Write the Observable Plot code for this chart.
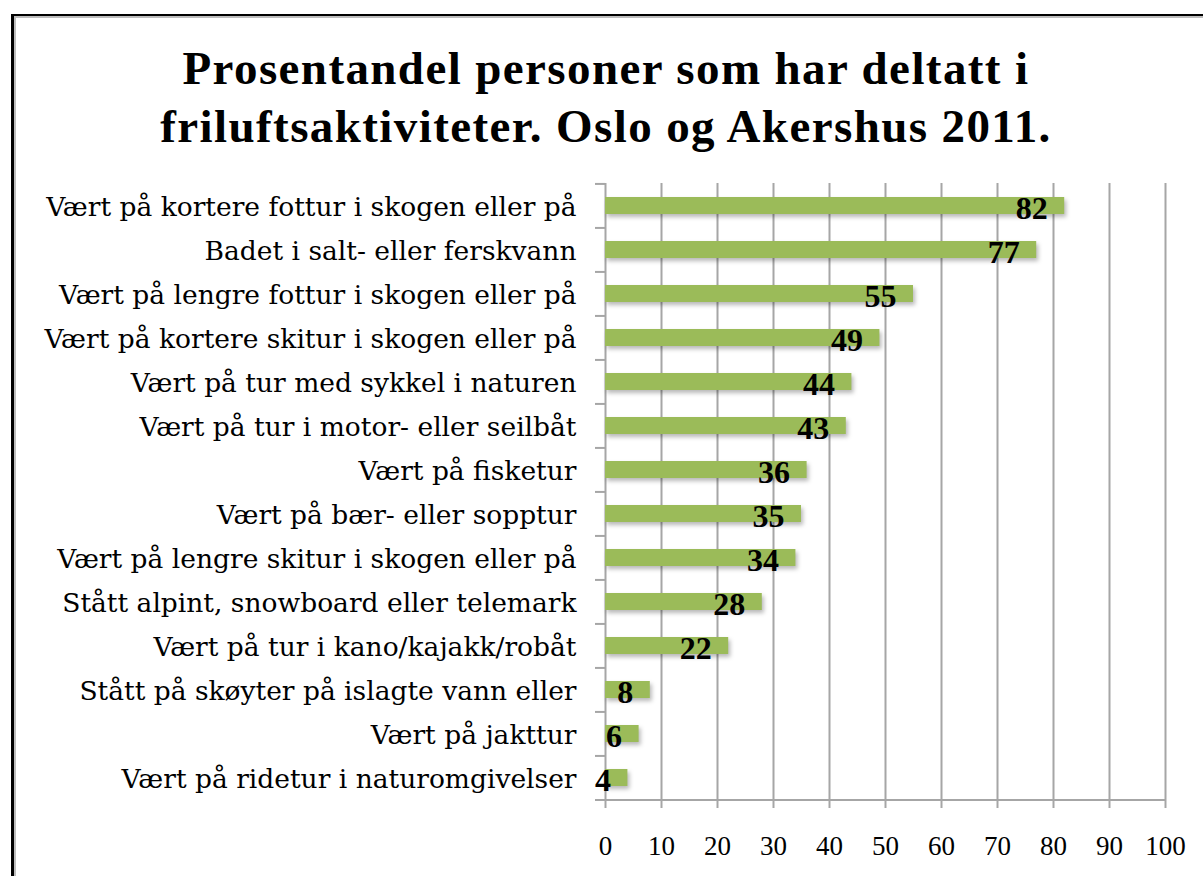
<!DOCTYPE html>
<html>
<head>
<meta charset="utf-8">
<script src="https://cdn.jsdelivr.net/npm/d3@7"></script>
<script src="https://cdn.jsdelivr.net/npm/@observablehq/plot@0.6"></script>
<style>
  html, body { margin: 0; padding: 0; background: #fff; width: 1203px; height: 876px; overflow: hidden; }
  #frame { position: absolute; left: 11px; top: 14px; width: 1300px; height: 1000px;
           border-left: 3px solid #000; border-top: 2px solid #000; box-shadow: inset 2px 2px 0 #bdbdbd; }
  #title { position: absolute; left: 0; top: 39px; width: 1212px; text-align: center;
           font-family: "Liberation Serif", serif; font-weight: bold; font-size: 47px; line-height: 58px;
           letter-spacing: 1.4px; color: #000; white-space: nowrap; }
  #chart { position: absolute; left: 0; top: 0; }
  #chart svg g[aria-label="bar"] rect { filter: drop-shadow(2px 3px 2px rgba(0,0,0,0.28)); }
</style>
</head>
<body>
<div id="frame"></div>
<div id="title">Prosentandel personer som har deltatt i<br>friluftsaktiviteter. Oslo og Akershus 2011.</div>
<div id="chart"></div>
<script>
const activities = [
  "Vært på kortere fottur i skogen eller på",
  "Badet i salt- eller ferskvann",
  "Vært på lengre fottur i skogen eller på",
  "Vært på kortere skitur i skogen eller på",
  "Vært på tur med sykkel i naturen",
  "Vært på tur i motor- eller seilbåt",
  "Vært på fisketur",
  "Vært på bær- eller sopptur",
  "Vært på lengre skitur i skogen eller på",
  "Stått alpint, snowboard eller telemark",
  "Vært på tur i kano/kajakk/robåt",
  "Stått på skøyter på islagte vann eller",
  "Vært på jakttur",
  "Vært på ridetur i naturomgivelser"
];
const percents = [82, 77, 55, 49, 44, 43, 36, 35, 34, 28, 22, 8, 6, 4];
const xTicks = [0, 10, 20, 30, 40, 50, 60, 70, 80, 90, 100];

const data = activities.map((a, i) => ({activity: a, value: percents[i]}));

const W = 1203, H = 876, mT = 183, mB = 75, mL = 605, mR = 38;
const step = (H - mT - mB) / activities.length;
const gray = "#a6a6a6";

const chart = Plot.plot({
  width: W, height: H,
  marginTop: mT, marginBottom: mB, marginLeft: mL, marginRight: mR,
  style: {fontFamily: "'Liberation Serif', serif", color: "#000", background: "transparent"},
  x: {domain: [0, 100]},
  y: {domain: activities, paddingInner: 0.61, paddingOuter: 0.305, align: 0.5},
  marks: [
    Plot.gridX(xTicks, {stroke: gray, strokeOpacity: 1, strokeWidth: 2}),
    Plot.ruleY(activities, {y: d => d, x1: 0, x2: 0, insetLeft: -10, dy: -step / 2, stroke: gray, strokeWidth: 2}),
    Plot.ruleY([activities[activities.length - 1]], {y: d => d, x1: 0, x2: 100, insetLeft: -10, dy: step / 2, stroke: gray, strokeWidth: 2}),
    Plot.barX(data, {y: "activity", x: "value", fill: "#9bbb59"}),
    Plot.text(data, {y: "activity", x: "value", text: d => String(d.value), textAnchor: "end", dx: -17, dy: 3,
      fontWeight: "bold", fontSize: 32, fill: "#000"}),
    Plot.axisY({tickSize: 0, tickPadding: 29, fontSize: 26.5, fontFamily: "'DejaVu Serif', serif", dy: 2, label: null}),
    Plot.axisX({ticks: xTicks, tickSize: 7, tickPadding: 27, fontSize: 27, label: null, stroke: gray, strokeWidth: 2})
  ]
});
document.getElementById("chart").appendChild(chart);
</script>
</body>
</html>
